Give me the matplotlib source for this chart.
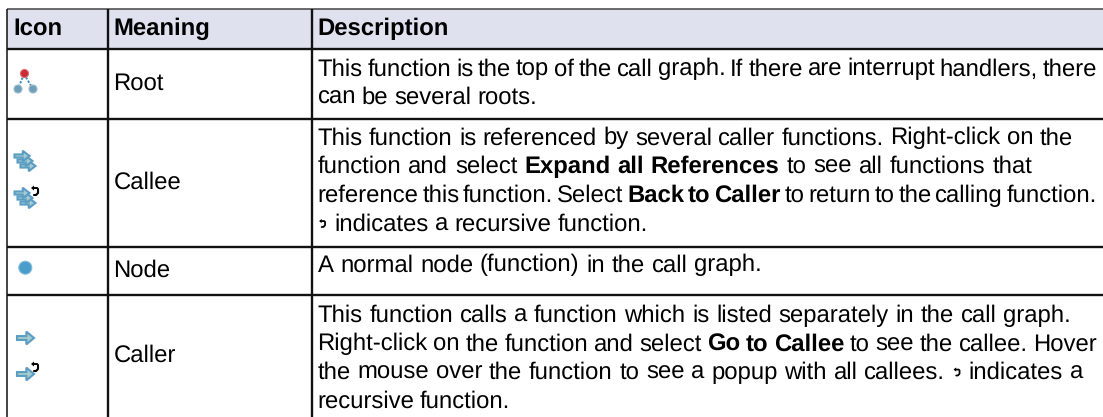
import matplotlib
matplotlib.use("Agg")
import matplotlib.pyplot as plt
from matplotlib.patches import Circle, Polygon, Rectangle

plt.rcParams['font.family'] = ['Liberation Sans', 'DejaVu Sans']
plt.rcParams['text.hinting'] = 'no_hinting'

headers = ["Icon", "Meaning", "Description"]
meanings = ["Root", "Callee", "Node", "Caller"]

# each line is a list of (text, bold) runs, "@" stands for the little recursion glyph
root_lines = [
    [("This function is the top of the call graph. If there are interrupt handlers, there", False)],
    [("can be several roots.", False)],
]
callee_lines = [
    [("This function is referenced by several caller functions. Right-click on the", False)],
    [("function and select", False), ("Expand all References", True), ("to see all functions that", False)],
    [("reference this function. Select", False), ("Back to Caller", True), ("to return to the calling function.", False)],
    [("@ indicates a recursive function.", False)],
]
node_lines = [
    [("A normal node (function) in the call graph.", False)],
]
caller_lines = [
    [("This function calls a function which is listed separately in the call graph.", False)],
    [("Right-click on the function and select", False), ("Go to Callee", True), ("to see the callee. Hover", False)],
    [("the mouse over the function to see a popup with all callees. @ indicates a", False)],
    [("recursive function.", False)],
]
descriptions = [root_lines, callee_lines, node_lines, caller_lines]

# layout in pixels
W, H = 1103, 417
col_x = [7, 107.5, 311.5]
row_y = [9, 49, 118.5, 247, 295, 417]
first_base = [75.5, 144.5, 271.5, 321.7]   # baseline of first line in each row
line_ends = [[1097, 537], [1073, 1032, 1097, 648], [762], [1071, 1097, 1083, 510]]   # right end of each line
line_h = 28.7
pad = 6
fs = 17.2
glyph_w = 10
head_bg = "#dfe1ef"
grid = "#111111"

fig = plt.figure(figsize=(W / 100, H / 100), dpi=100)
ax = fig.add_axes([0, 0, 1, 1])
ax.set_xlim(0, W)
ax.set_ylim(H, 0)
ax.axis("off")
rend = fig.canvas.get_renderer()


def recur(x, y, s=1.0):
    # small black return arrow
    ax.plot([x - 2 * s, x + 2 * s, x + 3 * s, x + 3 * s, x + 1 * s, x - 1 * s],
            [y - 3 * s, y - 3 * s, y - 2 * s, y + 2 * s, y + 4 * s, y + 4 * s],
            color="black", lw=1.5 * s, solid_capstyle="round", zorder=5)
    ax.add_patch(Polygon([(x - 4 * s, y - 3 * s), (x - 1 * s, y - 5.5 * s), (x - 1 * s, y - 0.5 * s)],
                         fc="black", ec="none", zorder=5))


def arrow(x, y, fc="#a6cdcd", ec="#5a9cc4", w=8.5, h=3.2):
    pts = [(x - w, y - h * 0.6), (x + w * 0.1, y - h * 0.6), (x + w * 0.1, y - h * 2), (x + w, y),
           (x + w * 0.1, y + h * 2), (x + w * 0.1, y + h * 0.6), (x - w, y + h * 0.6)]
    ax.add_patch(Polygon(pts, fc=fc, ec=ec, lw=1.5, zorder=4))


def stack(x, y):
    # three arrows, top one drawn last
    arrow(x + 3, y + 5, w=7.5, h=2.6)
    arrow(x, y, w=7.5, h=2.6)
    arrow(x - 3, y - 5, w=7.5, h=2.6)


def ball(x, y, r, c, ec):
    ax.add_patch(Circle((x, y), r, fc=c, ec=ec, lw=0.8, zorder=4))


def icon_root():
    ax.plot([24, 18], [74, 89], color="#3f8fc4", lw=1.4, ls=(0, (1.2, 0.8)), zorder=3)
    ax.plot([24, 33], [74, 89], color="#3f8fc4", lw=1.4, ls=(0, (1.2, 0.8)), zorder=3)
    ball(24.5, 73.5, 4, "#c92a35", "#e06a70")
    ball(18, 89, 4, "#6f9fb8", "#9dbccc")
    ball(33, 89, 4, "#6f9fb8", "#9dbccc")


def icon_callee():
    stack(25, 161)
    stack(25, 198)
    recur(35, 191)


def icon_node():
    ball(25.3, 267.7, 6.5, "#4a9ccb", "#86bcd8")


def icon_caller():
    arrow(25.5, 338)
    arrow(25.5, 374)
    recur(35, 367)


def word_width(word, bold):
    t = ax.text(0, 0, word, fontsize=fs, fontweight="bold" if bold else "normal")
    w, _, _ = rend.get_text_width_height_descent(word, t.get_fontproperties(), False)
    t.remove()
    return w


def draw_line(runs, x, base, end):
    # word by word, spaces stretched or squeezed so the line ends where it does in the original
    words = [(w, bold) for txt, bold in runs for w in txt.split()]
    widths = [glyph_w if w == "@" else word_width(w, bold) for w, bold in words]
    gap = (end - x - sum(widths)) / max(len(words) - 1, 1)
    for (w, bold), wd in zip(words, widths):
        if w == "@":
            recur(x + 5, base - 7, 0.85)
        else:
            ax.text(x, base, w, fontsize=fs, fontweight="bold" if bold else "normal",
                    va="baseline", ha="left", color="black")
        x += wd + gap


ax.add_patch(Rectangle((col_x[0], row_y[0]), W - col_x[0], row_y[1] - row_y[0], fc=head_bg, ec="none", zorder=0))

for yy in row_y[:-1]:
    top_rule = yy == row_y[0]
    ax.plot([col_x[0], W], [yy, yy], color="#444444" if top_rule else grid, lw=1.1 if top_rule else 1.7,
            solid_capstyle="butt", zorder=2)
for xx in col_x:
    # the outer left rule is thinner than the column rules
    ax.plot([xx, xx], [row_y[0], H], color=grid, lw=1.1 if xx == col_x[0] else 1.7, solid_capstyle="butt", zorder=2)

for xx, name in zip(col_x, headers):
    ax.text(xx + pad, 35, name, fontsize=fs, fontweight="bold", va="baseline", ha="left")

for i, (name, lines) in enumerate(zip(meanings, descriptions)):
    mid = (row_y[i + 1] + row_y[i + 2]) / 2
    ax.text(col_x[1] + pad, mid + 6, name, fontsize=fs, va="baseline", ha="left")
    for k, runs in enumerate(lines):
        draw_line(runs, col_x[2] + pad, first_base[i] + k * line_h, line_ends[i][k])

icon_root()
icon_callee()
icon_node()
icon_caller()

fig.savefig("out.png", dpi=100)
